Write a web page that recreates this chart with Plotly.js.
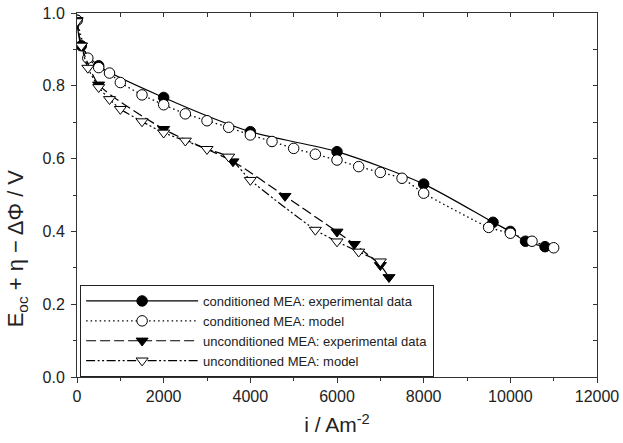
<!DOCTYPE html>
<html>
<head>
<meta charset="utf-8">
<script src="https://cdn.plot.ly/plotly-3.0.1.min.js"></script>
<style>html,body{margin:0;padding:0;background:#fff;}#chart{width:623px;height:443px;}</style>
</head>
<body>
<div id="chart"></div>
<script>
// Conditioned MEA: experimental data
const condExpX = [0, 100, 500, 2000, 4000, 6000, 8000, 9600, 10000, 10350, 10800];
const condExpY = [0.98, 0.91, 0.855, 0.768, 0.674, 0.619, 0.530, 0.425, 0.400, 0.373, 0.358];
// Conditioned MEA: model
const condModX = [0, 250, 500, 750, 1000, 1500, 2000, 2500, 3000, 3500, 4000, 4500, 5000, 5500, 6000, 6500, 7000, 7500, 8000, 9500, 10000, 10500, 11000];
const condModY = [0.98, 0.876, 0.850, 0.835, 0.809, 0.775, 0.748, 0.723, 0.704, 0.686, 0.665, 0.647, 0.628, 0.612, 0.596, 0.578, 0.562, 0.546, 0.505, 0.411, 0.395, 0.373, 0.355];
// Unconditioned MEA: experimental data
const uncExpX = [0, 100, 500, 2000, 3600, 4800, 6000, 6400, 7000, 7200];
const uncExpY = [0.98, 0.91, 0.803, 0.681, 0.592, 0.497, 0.399, 0.365, 0.307, 0.274];
// Unconditioned MEA: model
const uncModX = [0, 100, 250, 500, 750, 1000, 1500, 2000, 2500, 3000, 3500, 4000, 5500, 6000, 6500, 7000];
const uncModY = [0.977, 0.91, 0.849, 0.796, 0.763, 0.736, 0.702, 0.671, 0.649, 0.626, 0.605, 0.541, 0.404, 0.372, 0.344, 0.317];

const seriesNames = [
  'conditioned MEA: experimental data',
  'conditioned MEA: model',
  'unconditioned MEA: experimental data',
  'unconditioned MEA: model'
];
const xTicks = [0, 2000, 4000, 6000, 8000, 10000, 12000];
const yTicks = [0.0, 0.2, 0.4, 0.6, 0.8, 1.0];
const yTickText = ['0.0', '0.2', '0.4', '0.6', '0.8', '1.0'];

const FONT = 'Liberation Sans, Arial, Helvetica, sans-serif';

const traces = [
  {x: condExpX, y: condExpY, name: seriesNames[0], mode: 'lines+markers',
   line: {color: '#000', width: 1.2, dash: 'solid', shape: 'spline', smoothing: 0.8},
   marker: {symbol: 'circle', size: 10.5, color: '#000', line: {color: '#000', width: 1}}},
  {x: condModX, y: condModY, name: seriesNames[1], mode: 'lines+markers',
   line: {color: '#000', width: 1.3, dash: '1.5px,3px', shape: 'spline', smoothing: 0.5},
   marker: {symbol: 'circle', size: 10.5, color: '#fff', line: {color: '#000', width: 1}}},
  {x: uncExpX, y: uncExpY, name: seriesNames[2], mode: 'lines+markers',
   line: {color: '#000', width: 1.2, dash: '10px,4px', shape: 'spline', smoothing: 0.6},
   marker: {symbol: 'triangle-down', size: 10.5, color: '#000', line: {color: '#000', width: 1}}},
  {x: uncModX, y: uncModY, name: seriesNames[3], mode: 'lines+markers',
   line: {color: '#000', width: 1.2, dash: '9px,2.5px,2px,2.5px,2px,2.5px', shape: 'spline', smoothing: 0.5},
   marker: {symbol: 'triangle-down', size: 10.5, color: '#fff', line: {color: '#000', width: 1}}},
  {x: [null], y: [null], xaxis: 'x2', yaxis: 'y2', showlegend: false, hoverinfo: 'skip', mode: 'markers'}
];

const layout = {
  width: 623, height: 443,
  margin: {l: 77, r: 26, t: 13, b: 66, pad: 0},
  paper_bgcolor: '#fff', plot_bgcolor: '#fff',
  font: {family: FONT, color: '#222', size: 13},
  showlegend: true,
  xaxis: {
    range: [0, 12000], tickvals: xTicks, ticktext: xTicks.map(String),
    ticks: 'outside', ticklen: 5, tickwidth: 1, tickcolor: '#333',
    minor: {dtick: 1000, ticks: 'outside', ticklen: 3, tickcolor: '#333'},
    showline: true, linecolor: '#333', linewidth: 1, mirror: true,
    showgrid: false, zeroline: false,
    tickfont: {size: 16, color: '#222'},
    title: {text: 'i / Am<sup>-2</sup>', font: {size: 21, color: '#222'}, standoff: 13}
  },
  yaxis: {
    range: [0, 1.0], tickvals: yTicks, ticktext: yTickText,
    ticks: 'outside', ticklen: 5, tickwidth: 1, tickcolor: '#333',
    minor: {dtick: 0.1, ticks: 'outside', ticklen: 3, tickcolor: '#333'},
    showline: true, linecolor: '#333', linewidth: 1, mirror: true,
    showgrid: false, zeroline: false, ticklabelstandoff: 3,
    tickfont: {size: 16, color: '#222'}
  },
  xaxis2: {range: [0, 12000], overlaying: 'x', side: 'top', anchor: 'y2',
    tickvals: [0,1000,2000,3000,4000,5000,6000,7000,8000,9000,10000,11000,12000],
    ticks: 'inside', ticklen: 4, tickcolor: '#333', showticklabels: false,
    showline: false, showgrid: false, zeroline: false},
  yaxis2: {range: [0, 1.0], overlaying: 'y', side: 'right', anchor: 'x2',
    tickvals: [0,0.1,0.2,0.3,0.4,0.5,0.6,0.7,0.8,0.9,1.0],
    ticks: 'inside', ticklen: 4, tickcolor: '#333', showticklabels: false,
    showline: false, showgrid: false, zeroline: false},
  legend: {
    x: 0.006, y: 0.0, xanchor: 'left', yanchor: 'bottom',
    bgcolor: '#fff', bordercolor: '#222', borderwidth: 1,
    font: {family: FONT, size: 13, color: '#222'},
    itemwidth: 112, tracegroupgap: 0
  },
  annotations: [{
    text: 'E<sub>oc</sub> + η − ΔΦ / V', textangle: -90,
    xref: 'paper', yref: 'paper', x: -0.115, y: 0.354,
    xanchor: 'center', yanchor: 'middle', showarrow: false,
    font: {size: 22, color: '#222', family: FONT}
  }]
};

Plotly.newPlot('chart', traces, layout, {displayModeBar: false, staticPlot: true});
</script>
</body>
</html>
